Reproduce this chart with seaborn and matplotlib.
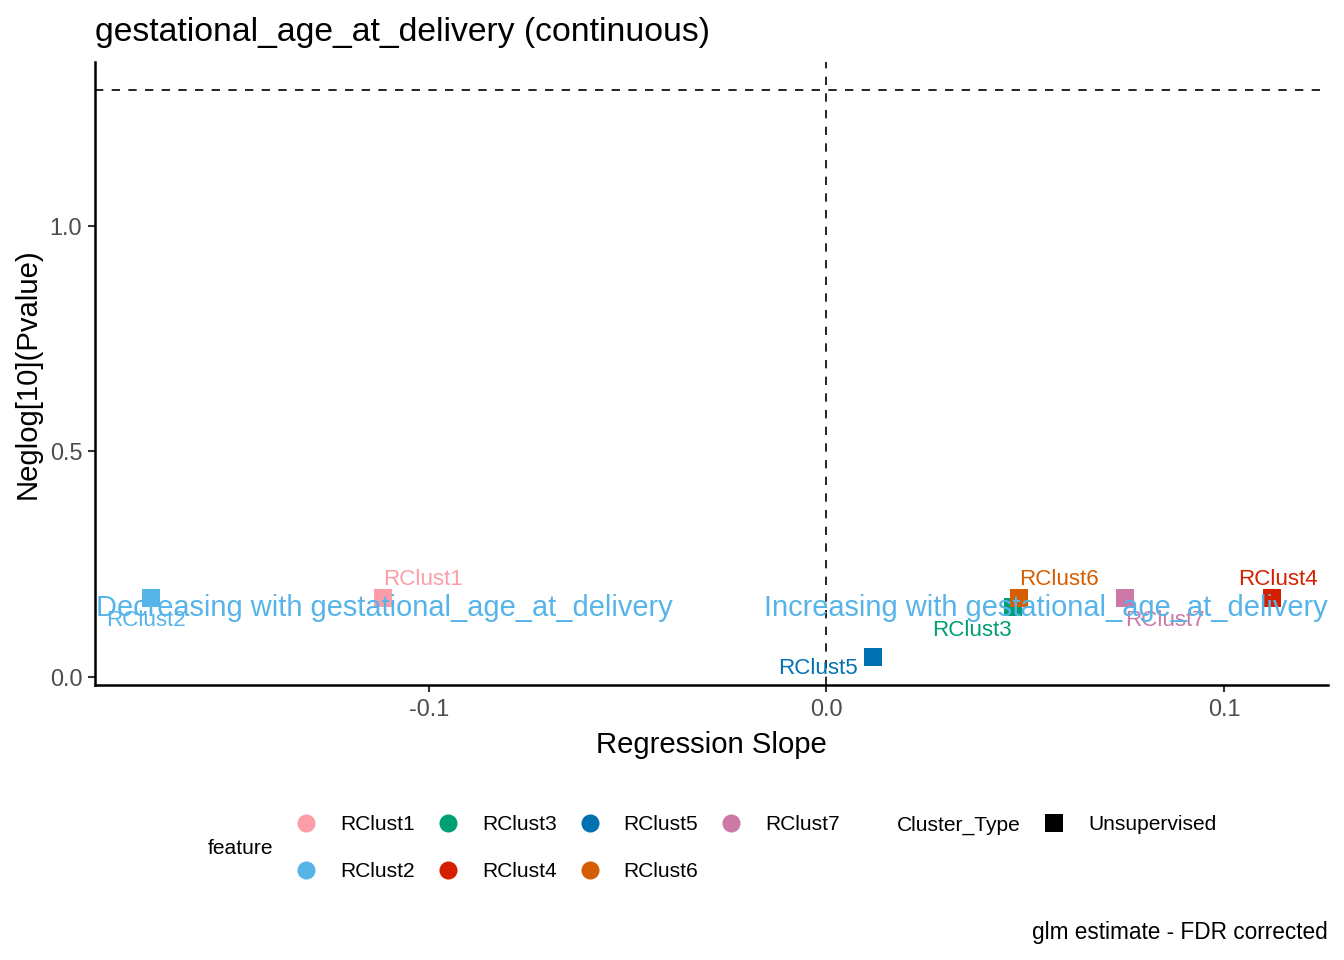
import numpy as np
import pandas as pd
import matplotlib
matplotlib.use("Agg")
import matplotlib.pyplot as plt
import matplotlib.transforms as mtransforms
from matplotlib.lines import Line2D
import seaborn as sns

# values
features = ['RClust1', 'RClust2', 'RClust3', 'RClust4', 'RClust5', 'RClust6', 'RClust7']
slopes = [-0.1116, -0.1698, 0.0470, 0.1120, 0.0118, 0.0485, 0.0751]
neglog_p = [0.175, 0.175, 0.155, 0.175, 0.044, 0.175, 0.175]
colors = ['#FC9DA7', '#56B4E9', '#009E73', '#D52000', '#0072B2', '#D55E00', '#CC79A7']
x_ticks = [-0.1, 0.0, 0.1]
x_ticklabels = ['-0.1', '0.0', '0.1']
y_ticks = [0.0, 0.5, 1.0]
y_ticklabels = ['0.0', '0.5', '1.0']
p_cut = 0.05
target = 'gestational_age_at_delivery'

# label offsets in pixels (repel-style placement)
label_offsets = [(40, 18), (-5, -23), (-41, -24), (6, 18), (-55, -12), (40, 18), (40, -23)]

df = pd.DataFrame({'feature': features, 'slope': slopes, 'neglog': neglog_p})

sns.set_style("ticks")
plt.rcParams['font.family'] = ['Liberation Sans', 'DejaVu Sans']
plt.rcParams['axes.unicode_minus'] = False
plt.rcParams['text.color'] = 'black'

fig = plt.figure(figsize=(13.44, 9.6), dpi=100)
ax = fig.add_axes([95/1344, 1-685/960, 1233/1344, 623/960])

pal = dict(zip(features, colors))
sns.scatterplot(data=df, x='slope', y='neglog', hue='feature', palette=pal,
                marker='s', s=168, linewidth=0, legend=False, ax=ax, zorder=3)

px = 0.72  # px -> pt at 100 dpi
for f, xv, yv, (dx, dy) in zip(features, slopes, neglog_p, label_offsets):
    ax.annotate(f, (xv, yv), xytext=(dx*px, dy*px), textcoords='offset points',
                ha='center', va='center', color=pal[f], fontsize=16.1, zorder=4)

# reference lines
hline = -np.log10(p_cut)
ax.axhline(hline, color='black', lw=1.2, ls=(0, (5, 5)), zorder=2)
ax.axvline(0, color='black', lw=1.2, ls=(0, (5, 5)), zorder=2)

# scale limits with 5% expansion
xmin, xmax = min(slopes), max(slopes)
xr = xmax - xmin
ax.set_xlim(xmin - 0.05*xr, xmax + 0.05*xr)
ymin, ymax = min(neglog_p), max(max(neglog_p), hline)
yr = ymax - ymin
ax.set_ylim(ymin - 0.05*yr, ymax + 0.05*yr)

# direction annotations
trans = mtransforms.blended_transform_factory(ax.transAxes, ax.transData)
ax.text(0.0005, 0.153, 'Decreasing with ' + target, transform=trans, ha='left', va='center',
        fontsize=20.9, color='#56B4E9', zorder=5)
ax.text(0.9995, 0.153, 'Increasing with ' + target, transform=trans, ha='right', va='center',
        fontsize=20.9, color='#56B4E9', zorder=5)

ax.set_xticks(x_ticks)
ax.set_xticklabels(x_ticklabels)
ax.set_yticks(y_ticks)
ax.set_yticklabels(y_ticklabels)
ax.tick_params(axis='both', length=5.2, width=1.5, color='#333333', labelcolor='#4D4D4D',
               labelsize=16.9, pad=4)
for s in ['left', 'bottom']:
    ax.spines[s].set_linewidth(1.8)
    ax.spines[s].set_color('black')
sns.despine(ax=ax)

ax.set_xlabel('Regression Slope', fontsize=21.1, color='black')
ax.set_ylabel('Neglog[10](Pvalue)', fontsize=21.1, color='black')
ax.xaxis.set_label_coords(0.5, (685-731)/623)
ax.yaxis.set_label_coords((42-95)/1233, 0.5)
ax.set_title(target + ' (continuous)', loc='left', fontsize=24.3, pad=15, color='black')

# legends
lfs = 15.1
feat_handles = [Line2D([], [], marker='o', ls='', markersize=13, markerfacecolor=pal[f],
                       markeredgewidth=0) for f in features]
leg1 = fig.legend(feat_handles, features, loc='center left', bbox_to_anchor=(296/1344, 1-848/960),
                  ncol=4, frameon=False, fontsize=lfs, handlelength=1.0, handletextpad=1.12,
                  columnspacing=1.07, labelspacing=1.32, borderpad=0, borderaxespad=0)
type_handle = [Line2D([], [], marker='s', ls='', markersize=12.5, markerfacecolor='black',
                      markeredgewidth=0)]
leg2 = fig.legend(type_handle, ['Unsupervised'], loc='center left',
                  bbox_to_anchor=(1044/1344, 1-825/960), frameon=False, fontsize=lfs,
                  handlelength=1.0, handletextpad=1.12, borderpad=0, borderaxespad=0)
fig.text(208/1344, 1-848/960, 'feature', ha='left', va='center', fontsize=lfs)
fig.text(897/1344, 1-825/960, 'Cluster_Type', ha='left', va='center', fontsize=lfs)
fig.text(1328/1344, 1-933/960, 'glm estimate - FDR corrected', ha='right', va='center', fontsize=16.3)

fig.savefig('out.png', dpi=100)
